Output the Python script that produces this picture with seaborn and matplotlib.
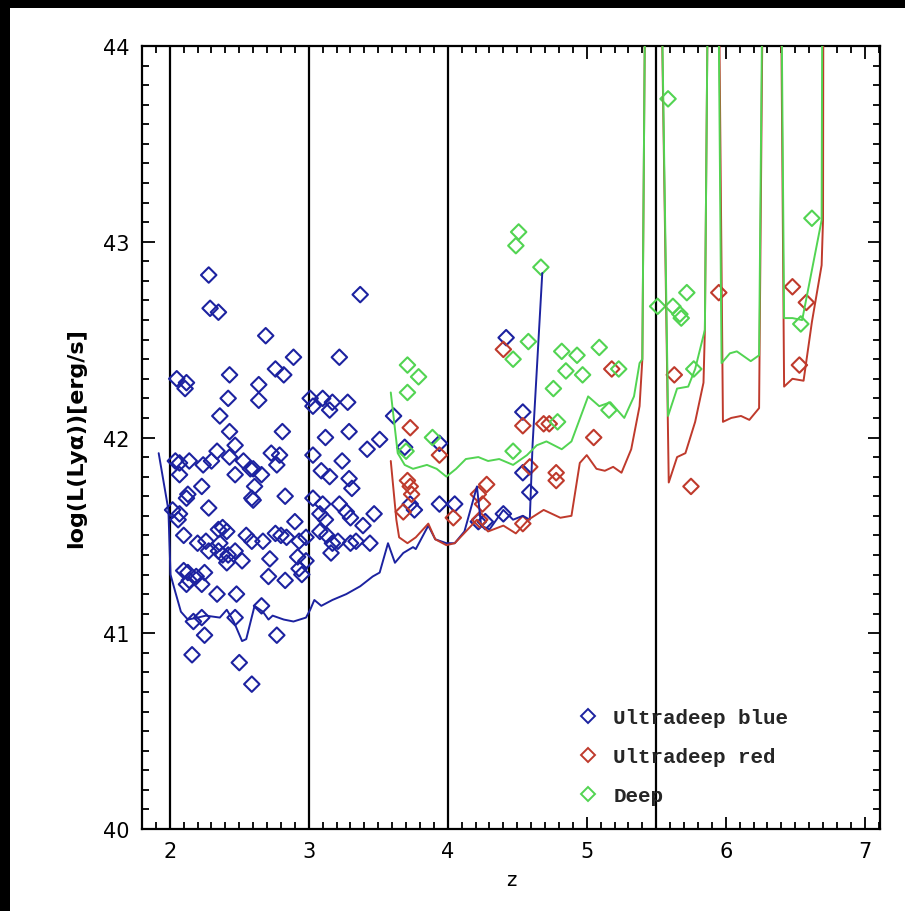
import matplotlib
matplotlib.use("Agg")
import matplotlib.pyplot as plt
import seaborn as sns
from matplotlib.lines import Line2D
from matplotlib.patches import Rectangle
from matplotlib.ticker import MultipleLocator

# ---------------- data ----------------
blue_z = [2.28, 2.29, 2.35, 3.37, 2.69, 2.89, 3.22, 2.76, 2.82, 2.05, 2.12, 2.11, 2.43, 2.64, 2.64,
          2.42, 3.01, 3.10, 3.17, 3.28, 3.03, 3.15, 2.36, 2.43, 2.81, 3.12, 3.29, 3.51, 3.42, 2.34,
          2.47, 2.43, 2.73, 2.79, 2.77, 3.03, 3.24, 2.04, 2.07, 2.14, 2.07, 2.24, 2.30, 2.53, 2.58,
          2.66, 2.60, 2.47, 2.61, 2.59, 2.60, 3.09, 3.15, 3.29, 3.31, 2.23, 2.13, 2.12, 2.02, 2.07,
          2.06, 2.28, 2.83, 3.03, 3.10, 3.08, 3.12, 3.22, 3.27, 3.30, 3.47, 3.39, 2.90, 2.10, 2.20,
          2.26, 2.28, 2.35, 2.38, 2.41, 2.36, 2.35, 2.38, 2.42, 2.47, 2.41, 2.52, 2.55, 2.59, 2.67,
          2.76, 2.80, 2.84, 2.93, 2.98, 2.72, 2.92, 2.98, 2.93, 2.95, 3.08, 3.13, 3.17, 3.21, 3.30,
          3.34, 3.44, 3.16, 2.10, 2.13, 2.12, 2.19, 2.25, 2.23, 2.14, 2.71, 2.83, 2.34, 2.48, 2.66,
          2.47, 2.17, 2.23, 2.25, 2.77, 2.16, 2.50, 2.59,
          3.61, 3.69, 3.94, 3.73, 3.76, 3.94, 4.05, 4.27, 4.22, 4.42, 4.54, 4.54, 4.59, 4.40]
blue_L = [42.83, 42.66, 42.64, 42.73, 42.52, 42.41, 42.41, 42.35, 42.32, 42.30, 42.28, 42.25, 42.32, 42.27, 42.19,
          42.20, 42.20, 42.20, 42.18, 42.18, 42.16, 42.14, 42.11, 42.03, 42.03, 42.00, 42.03, 41.99, 41.94, 41.93,
          41.96, 41.90, 41.92, 41.91, 41.86, 41.91, 41.88, 41.88, 41.87, 41.88, 41.81, 41.86, 41.88, 41.88, 41.84,
          41.81, 41.84, 41.81, 41.75, 41.69, 41.68, 41.83, 41.80, 41.79, 41.74, 41.75, 41.71, 41.69, 41.63, 41.61,
          41.58, 41.64, 41.70, 41.69, 41.66, 41.61, 41.58, 41.66, 41.62, 41.59, 41.61, 41.55, 41.57, 41.50, 41.46,
          41.47, 41.42, 41.53, 41.54, 41.52, 41.46, 41.42, 41.40, 41.40, 41.42, 41.36, 41.37, 41.50, 41.47, 41.47,
          41.51, 41.50, 41.49, 41.47, 41.49, 41.38, 41.39, 41.37, 41.33, 41.30, 41.52, 41.50, 41.46, 41.47, 41.46,
          41.47, 41.46, 41.41, 41.32, 41.31, 41.25, 41.29, 41.31, 41.25, 41.27, 41.29, 41.27, 41.20, 41.20, 41.14,
          41.08, 41.06, 41.08, 40.99, 40.99, 40.89, 40.85, 40.74,
          42.11, 41.95, 41.97, 41.66, 41.63, 41.66, 41.66, 41.57, 41.57, 42.51, 42.13, 41.82, 41.72, 41.61]

red_z = [3.73, 3.94, 3.71, 3.73, 3.74, 3.68, 4.04, 4.22, 4.28, 4.25, 4.23, 4.40, 4.54, 4.69, 4.73,
         4.78, 4.78, 5.05, 5.18, 4.59, 4.54, 5.63, 5.75, 5.95, 6.48, 6.58, 6.53]
red_L = [42.05, 41.91, 41.78, 41.75, 41.71, 41.62, 41.59, 41.71, 41.76, 41.66, 41.58, 42.45, 42.06, 42.07, 42.07,
         41.82, 41.78, 42.00, 42.35, 41.85, 41.56, 42.32, 41.75, 42.74, 42.77, 42.69, 42.37]

green_z = [3.71, 3.79, 3.71, 3.89, 3.70, 4.51, 4.49, 4.67, 4.58, 4.47, 4.82, 4.93, 5.09, 4.85, 4.97,
           4.76, 5.23, 5.16, 4.79, 4.47, 5.585, 5.51, 5.72, 5.62, 5.67, 5.68, 5.77, 6.62, 6.54]
green_L = [42.37, 42.31, 42.23, 42.00, 41.93, 43.05, 42.98, 42.87, 42.49, 42.40, 42.44, 42.42, 42.46, 42.34, 42.32,
           42.25, 42.35, 42.14, 42.08, 41.93, 43.73, 42.67, 42.74, 42.67, 42.63, 42.61, 42.35, 43.12, 42.58]

# detection-limit curves (values above 44 run off the top of the plot)
blue_lim_z = [1.92, 1.99, 2.005, 2.04, 2.08, 2.13, 2.20, 2.26, 2.36, 2.41, 2.46, 2.52, 2.55, 2.61, 2.67,
              2.71, 2.74, 2.82, 2.89, 2.98, 3.01, 3.04, 3.09, 3.17, 3.27, 3.37, 3.46, 3.51, 3.57, 3.62,
              3.68, 3.75, 3.77, 3.86, 3.91, 3.99, 4.05, 4.12, 4.21, 4.24, 4.30, 4.40, 4.47, 4.54, 4.59,
              4.61, 4.68]
blue_lim_L = [41.92, 41.63, 41.30, 41.21, 41.11, 41.07, 41.08, 41.09, 41.08, 41.12, 41.06, 40.96, 40.97, 41.14, 41.11,
              41.07, 41.09, 41.07, 41.06, 41.08, 41.12, 41.17, 41.14, 41.17, 41.20, 41.24, 41.29, 41.31, 41.46, 41.36,
              41.41, 41.44, 41.43, 41.55, 41.48, 41.46, 41.46, 41.52, 41.75, 41.55, 41.53, 41.63, 41.58, 41.60, 41.58,
              41.96, 42.84]

red_lim_z = [3.59, 3.63, 3.65, 3.71, 3.77, 3.86, 3.91, 3.99, 4.05, 4.13, 4.21, 4.29, 4.40, 4.49, 4.58,
             4.69, 4.81, 4.89, 4.95, 5.00, 5.07, 5.13, 5.19, 5.25, 5.32, 5.38, 5.40, 5.46, 5.59, 5.65,
             5.71, 5.78, 5.84, 5.85, 5.91, 5.98, 6.04, 6.11, 6.17, 6.24, 6.335, 6.42, 6.48, 6.56, 6.62,
             6.69, 6.70, 6.71]
red_lim_L = [41.88, 41.58, 41.49, 41.46, 41.49, 41.56, 41.48, 41.45, 41.46, 41.52, 41.58, 41.52, 41.55, 41.51, 41.58,
             41.63, 41.59, 41.60, 41.87, 41.91, 41.84, 41.83, 41.85, 41.82, 41.94, 42.16, 42.40, 48.0, 41.77, 41.90,
             41.92, 42.08, 42.28, 42.55, 47.5, 42.08, 42.10, 42.11, 42.09, 42.15, 50.0, 42.26, 42.30, 42.29, 42.59,
             42.88, 43.11, 48.0]

green_lim_z = [3.59, 3.64, 3.69, 3.75, 3.85, 3.92, 3.99, 4.06, 4.13, 4.22, 4.29, 4.37, 4.47, 4.57, 4.64,
               4.71, 4.82, 4.89, 5.01, 5.09, 5.17, 5.27, 5.34, 5.38, 5.40, 5.46, 5.585, 5.65, 5.73, 5.78,
               5.85, 5.91, 5.97, 6.03, 6.08, 6.14, 6.18, 6.24, 6.335, 6.42, 6.48, 6.55, 6.69, 6.71]
green_lim_L = [42.23, 41.92, 41.86, 41.84, 41.86, 41.84, 41.80, 41.84, 41.89, 41.90, 41.88, 41.89, 41.86, 41.91, 41.96,
               41.98, 41.94, 41.98, 42.21, 42.16, 42.18, 42.10, 42.21, 42.38, 42.40, 48.0, 42.11, 42.25, 42.26, 42.35,
               42.55, 47.5, 42.38, 42.43, 42.44, 42.41, 42.39, 42.42, 50.0, 42.61, 42.61, 42.60, 43.11, 48.0]

z_marks = [2, 3, 4, 5.5]
labels = ["Ultradeep blue", "Ultradeep red", "Deep"]
colors = ["#1c22a0", "#bf3a2c", "#52d452"]

# ---------------- plot ----------------
sns.set_style("ticks")
plt.rcParams["font.family"] = ["DejaVu Sans"]

fig = plt.figure(figsize=(9.05, 9.12), dpi=100)
fig.patch.set_facecolor("black")
fig.add_artist(Rectangle((10 / 905, 0), 1, 1 - 9 / 912, transform=fig.transFigure,
                         facecolor="white", edgecolor="none", zorder=-10))
ax = fig.add_axes([142 / 905, 82 / 912, 738 / 905, 783 / 912])
ax.set_facecolor("white")

for zv in z_marks:
    ax.axvline(zv, color="black", lw=1.6, zorder=1)

series = [
    (blue_z, blue_L, blue_lim_z, blue_lim_L, colors[0]),
    (red_z, red_L, red_lim_z, red_lim_L, colors[1]),
    (green_z, green_L, green_lim_z, green_lim_L, colors[2]),
]
for pz, pL, lz, lL, c in series:
    sns.scatterplot(x=pz, y=pL, ax=ax, marker="D", s=62, facecolor="none",
                    edgecolor=c, linewidth=1.5, zorder=3, legend=False)
    sns.lineplot(x=lz, y=lL, ax=ax, color=c, lw=1.4, sort=False, estimator=None,
                 zorder=4, legend=False)

ax.set_xlim(1.8, 7.11)
ax.set_ylim(40, 44)
ax.xaxis.set_major_locator(MultipleLocator(1))
ax.xaxis.set_minor_locator(MultipleLocator(0.1))
ax.yaxis.set_major_locator(MultipleLocator(1))
ax.yaxis.set_minor_locator(MultipleLocator(0.1))
ax.tick_params(which="both", direction="in", top=True, right=True, color="black", width=1.3,
               labelcolor="black")
ax.tick_params(which="major", length=9, labelsize=15, pad=9)
ax.tick_params(which="minor", length=5)
for s in ax.spines.values():
    s.set_linewidth(1.6)
    s.set_color("black")

ax.set_xlabel("z", fontsize=14, labelpad=6, color="black")
ax.set_ylabel("log(L(Ly\u03b1))[erg/s]", fontsize=16, fontweight="bold", labelpad=12, color="black")

handles = [Line2D([], [], marker="D", ls="none", mfc="none", mec=c, ms=7.5, mew=1.4)
           for c in colors]
leg = ax.legend(handles, labels, loc="upper left", bbox_to_anchor=(0.565, 0.178),
                frameon=False, handlelength=1.0, handletextpad=0.7, labelspacing=0.95,
                prop={"family": "Liberation Mono", "weight": "bold", "size": 15})
leg.set_zorder(5)

fig.savefig("out.png", dpi=100, facecolor=fig.get_facecolor())
